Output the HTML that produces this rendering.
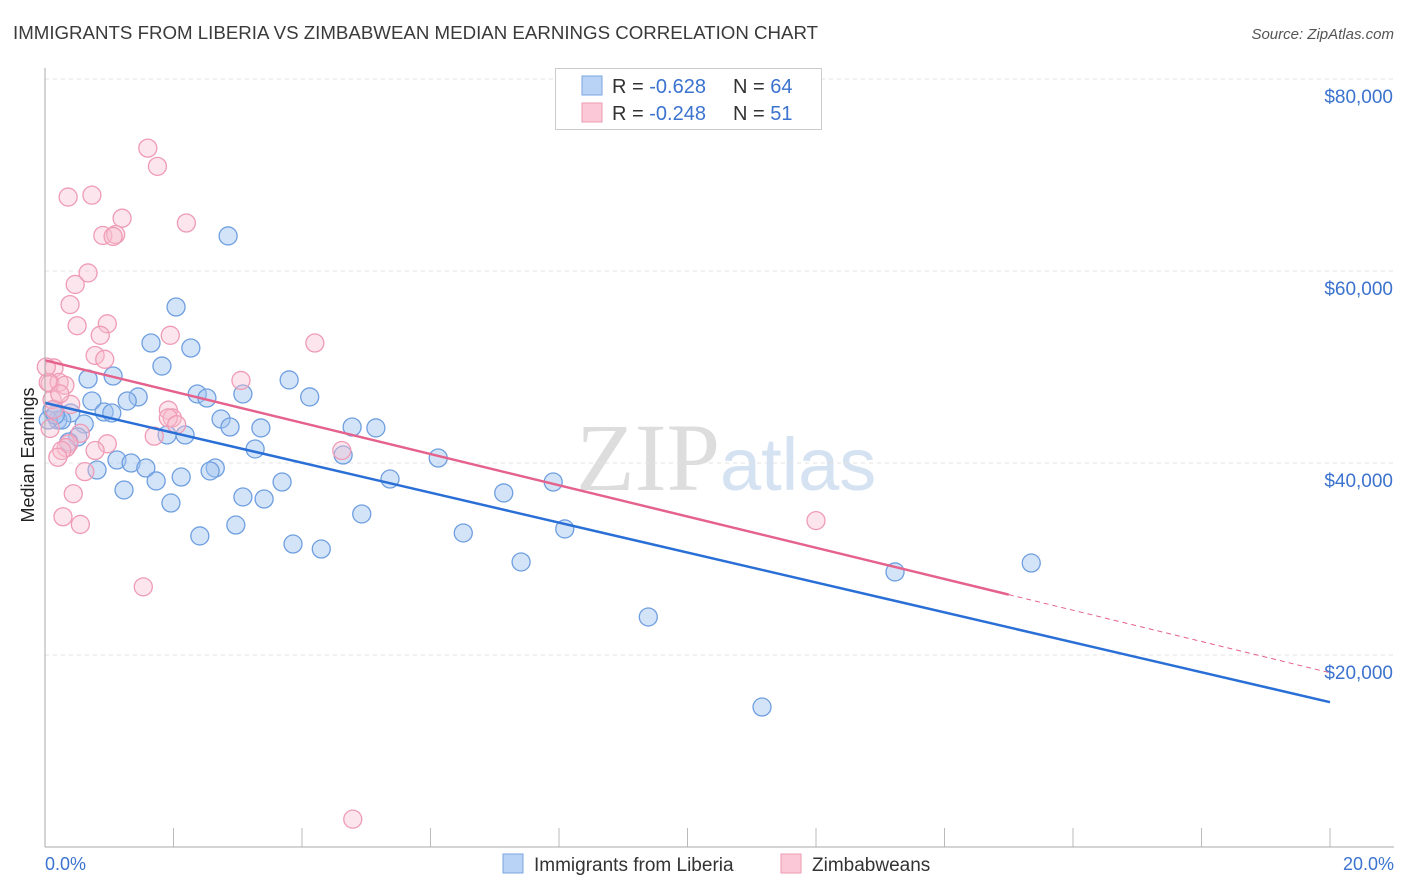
<!DOCTYPE html>
<html><head><meta charset="utf-8"><style>
body{margin:0;background:#fff;font-family:"Liberation Sans",sans-serif}
svg{display:block}
</style></head><body>
<svg id="chart" width="1406" height="892">
<text x="13" y="39" font-size="18.7" fill="#3a3a3a">IMMIGRANTS FROM LIBERIA VS ZIMBABWEAN MEDIAN EARNINGS CORRELATION CHART</text>
<text x="1394" y="39" font-size="15" font-style="italic" fill="#555" text-anchor="end">Source: ZipAtlas.com</text>
<text x="720" y="490" font-size="96" font-family="Liberation Serif,serif" fill="#ddd" text-anchor="end">ZIP</text>
<text x="720" y="490" font-size="74" fill="#d5e2f2">atlas</text>
<text transform="translate(34,455) rotate(-90)" font-size="18" fill="#222" text-anchor="middle">Median Earnings</text>
<g id="grid"></g><g id="pts"></g><g id="lines"></g>
<line x1="45" y1="68" x2="45" y2="847" stroke="#aaa"/>
<line x1="45" y1="847" x2="1394" y2="847" stroke="#aaa"/>
<text x="45" y="870" font-size="18" fill="#3b73cf">0.0%</text>
<text x="1394" y="870" font-size="18" fill="#3b73cf" text-anchor="end">20.0%</text>
<g>
<rect x="555.5" y="68.5" width="266" height="61" fill="#fff" stroke="#ccc"/>
<rect x="582" y="76" width="20" height="19" fill="#b8d3f5" stroke="#7ba6e0"/>
<rect x="582" y="103" width="20" height="19" fill="#fac8d6" stroke="#ee9ab3"/>
<text x="612" y="93" font-size="20" fill="#333">R = <tspan fill="#3b73cf">-0.628</tspan><tspan x="733">N = </tspan><tspan fill="#3b73cf">64</tspan></text>
<text x="612" y="120" font-size="20" fill="#333">R = <tspan fill="#3b73cf">-0.248</tspan><tspan x="733">N = </tspan><tspan fill="#3b73cf"> 51</tspan></text>
</g>
<g>
<rect x="503" y="854" width="20" height="19" fill="#b8d3f5" stroke="#7ba6e0"/>
<text x="534" y="871" font-size="19" fill="#333">Immigrants from Liberia</text>
<rect x="781" y="854" width="20" height="19" fill="#fac8d6" stroke="#ee9ab3"/>
<text x="812" y="871" font-size="19" fill="#333">Zimbabweans</text>
</g>
</svg>
<script>
const yTicks=[20000,40000,60000,80000];
const yTickLabels=["$20,000","$40,000","$60,000","$80,000"];
const xTicks=[0,2,4,6,8,10,12,14,16,18,20];
const blueX=[2.85,2.04,1.65,2.27,1.82,0.67,1.06,3.80,2.37,3.08,4.12,1.45,1.28,0.73,2.52,0.92,0.40,0.11,0.20,0.26,0.61,2.74,2.88,3.36,4.78,5.15,1.90,2.18,0.51,0.37,3.27,1.12,1.34,1.57,0.81,2.65,2.57,2.12,1.73,5.37,6.12,4.64,3.69,1.23,3.08,3.41,7.14,7.91,1.96,4.93,2.97,2.41,6.51,8.09,3.86,4.30,7.41,13.23,15.35,9.39,11.16,0.05,0.16,1.04];
const blueY=[63650,56250,52500,51980,50100,48750,49060,48650,47190,47190,46880,46880,46460,46460,46770,45310,45210,45520,44480,44480,44060,44580,43750,43650,43750,43650,42920,42920,42710,42190,41460,40310,40000,39480,39270,39480,39170,38540,38130,38330,40520,40830,38020,37190,36460,36250,36880,38020,35830,34690,33540,32400,32710,33130,31560,31040,29690,28650,29580,23960,14580,44480,45000,45210];
const pinkX=[1.6,1.75,0.36,0.73,1.2,2.2,0.9,1.1,1.06,0.67,0.47,0.39,0.5,0.97,0.86,1.95,4.2,0.78,0.93,0.14,0.08,0.22,0.31,3.05,0.11,0.4,1.92,1.98,1.92,2.05,0.55,1.7,0.97,0.37,0.33,0.26,4.62,0.2,0.62,0.44,0.28,0.55,12.0,1.53,4.79,0.05,0.08,0.14,0.23,0.78,0.02];
const pinkY=[72800,70900,67700,67900,65500,65000,63700,63800,63600,59800,58600,56500,54300,54500,53300,53300,52500,51200,50800,49900,48300,48400,48100,48600,46600,46100,45500,44700,44700,44000,43100,42800,42000,42000,41600,41300,41300,40600,39100,36800,34400,33600,34000,27100,2900,48400,43600,45600,47200,41300,50000];
const X0=45,X1=1330,Y0=847,Y80=79;
const sx=v=>X0+(v/20)*(X1-X0);
const sy=v=>Y0-(v/80000)*(Y0-Y80);
const NS="http://www.w3.org/2000/svg";
const g=document.getElementById('grid'),pts=document.getElementById('pts'),ln=document.getElementById('lines');
function mk(t,a,p){const e=document.createElementNS(NS,t);for(const k in a)e.setAttribute(k,a[k]);p.appendChild(e);return e;}
yTicks.forEach((v,i)=>{
 const l=mk('line',{x1:45,x2:1394,y1:sy(v),y2:sy(v),stroke:'#e3e3e3','stroke-dasharray':'4,4'},g);
 
 
 const t=mk('text',{x:1393,y:sy(v)+24,'font-size':19,fill:'#3b73cf','text-anchor':'end'},g);
 t.textContent=yTickLabels[i];
 
 
});
xTicks.forEach(v=>{
 const l=mk('line',{x1:sx(v),x2:sx(v),y1:828,y2:847,stroke:'#bbb'},g);
 
 
});
blueX.forEach((x,i)=>{
 const c=mk('circle',{cx:sx(x),cy:sy(blueY[i]),r:9,fill:'rgba(160,196,240,0.45)',stroke:'#6f9fe0','stroke-width':1.3},pts);
 
 
});
pinkX.forEach((x,i)=>{
 const c=mk('circle',{cx:sx(x),cy:sy(pinkY[i]),r:9,fill:'rgba(248,190,208,0.4)',stroke:'#ef9bb6','stroke-width':1.3},pts);
 
 
});
function fit(xs,ys){const n=xs.length;let mx=0,my=0;xs.forEach((x,i)=>{mx+=x;my+=ys[i]});mx/=n;my/=n;let a=0,b=0;xs.forEach((x,i)=>{a+=(x-mx)*(ys[i]-my);b+=(x-mx)**2});const s=a/b;return [s,my-s*mx];}
const [bs,bi]=fit(blueX,blueY);
const bl=mk('line',{x1:sx(0),y1:sy(bi),x2:sx(20),y2:sy(bi+bs*20),stroke:'#2a6fd6','stroke-width':2.5},ln);


const [ps,pi]=fit(pinkX,pinkY);
const pl=mk('line',{x1:sx(0),y1:sy(pi),x2:sx(15),y2:sy(pi+ps*15),stroke:'#e4628c','stroke-width':2.5},ln);


const pd=mk('line',{x1:sx(15),y1:sy(pi+ps*15),x2:sx(20),y2:sy(pi+ps*20),stroke:'#e4628c','stroke-width':1,'stroke-dasharray':'5,4'},ln);


</script>
</body></html>
